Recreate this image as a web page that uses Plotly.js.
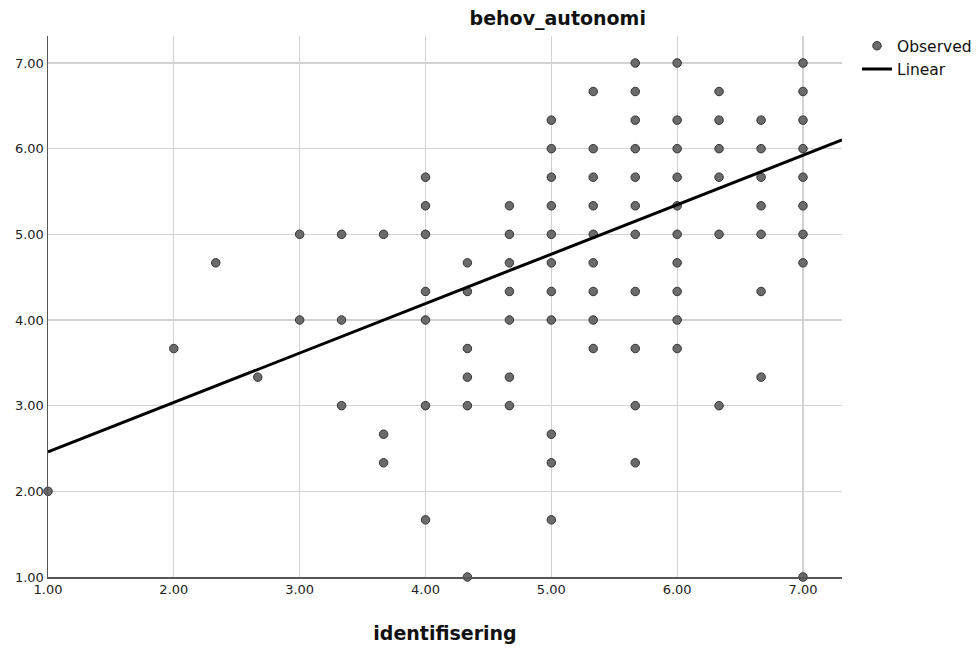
<!DOCTYPE html>
<html>
<head>
<meta charset="utf-8">
<script src="https://cdn.plot.ly/plotly-3.0.1.min.js"></script>
<style>html,body{margin:0;padding:0;background:#fff;}#chart{width:980px;height:648px;}</style>
</head>
<body>
<div id="chart"></div>
<script>
// identifisering (x) and behov_autonomi (y), grouped by x column
const colX = [1, 2, 2.333, 2.667, 3, 3.333, 3.667, 4, 4.333, 4.667, 5, 5.333, 5.667, 6, 6.333, 6.667, 7];
const colY = [
  [2],
  [3.667],
  [4.667],
  [3.333],
  [5, 4],
  [5, 4, 3],
  [5, 2.667, 2.333],
  [5.667, 5.333, 5, 4.333, 4, 3, 1.667],
  [4.667, 4.333, 3.667, 3.333, 3, 1],
  [5.333, 5, 4.667, 4.333, 4, 3.333, 3],
  [6.333, 6, 5.667, 5.333, 5, 4.667, 4.333, 4, 2.667, 2.333, 1.667],
  [6.667, 6, 5.667, 5.333, 5, 4.667, 4.333, 4, 3.667],
  [7, 6.667, 6.333, 6, 5.667, 5.333, 5, 4.333, 3.667, 3, 2.333],
  [7, 6.333, 6, 5.667, 5.333, 5, 4.667, 4.333, 4, 3.667],
  [6.667, 6.333, 6, 5.667, 5, 3],
  [6.333, 6, 5.667, 5.333, 5, 4.333, 3.333],
  [7, 6.667, 6.333, 6, 5.667, 5.333, 5, 4.667, 1]
];
// linear fit: y = intercept + slope * x
const fitIntercept = 1.883;
const fitSlope = 0.577;
const fitX = [1, 7.31];
const tickVals = [1, 2, 3, 4, 5, 6, 7];
const tickText = ["1.00", "2.00", "3.00", "4.00", "5.00", "6.00", "7.00"];

const obsX = [], obsY = [];
colX.forEach((x, i) => colY[i].forEach(y => { obsX.push(x); obsY.push(y); }));
const fitY = fitX.map(x => fitIntercept + fitSlope * x);

const FONT = "DejaVu Sans, sans-serif";
const data = [
  {type: 'scatter', mode: 'markers', name: 'Observed', x: obsX, y: obsY,
   marker: {size: 8.5, color: '#6b6b6b', line: {color: '#333333', width: 1}}, cliponaxis: false},
  {type: 'scatter', mode: 'lines', name: 'Linear', x: fitX, y: fitY,
   line: {color: '#000000', width: 3}}
];
const axisCommon = {
  tickvals: tickVals, ticktext: tickText, showgrid: true, gridcolor: '#d2d2d2', gridwidth: 1.2,
  zeroline: false, showline: true, linecolor: '#555555', linewidth: 1.5, ticks: '',
  tickfont: {family: FONT, size: 13, color: '#222222'}
};
const layout = {
  width: 980, height: 648, paper_bgcolor: '#ffffff', plot_bgcolor: '#ffffff',
  margin: {l: 48, r: 138, t: 36, b: 71, autoexpand: false},
  title: {text: '<b>behov_autonomi</b>', font: {family: FONT, size: 19, color: '#111111'},
          xref: 'paper', x: 0.642, xanchor: 'center', yref: 'container', y: 0.972, yanchor: 'middle'},
  xaxis: Object.assign({}, axisCommon, {range: [1, 7.31], automargin: false,
    title: {text: '<b>identifisering</b>', font: {family: FONT, size: 19, color: '#111111'}, standoff: 30}}),
  yaxis: Object.assign({}, axisCommon, {range: [1, 7.315], automargin: false}),
  showlegend: true,
  legend: {xref: 'container', yref: 'container', x: 0.8745, xanchor: 'left', y: 0.955, yanchor: 'top',
           bgcolor: 'rgba(0,0,0,0)',
           font: {family: FONT, size: 15.5, color: '#111111'}, tracegroupgap: 0, itemwidth: 30}
};
Plotly.newPlot('chart', data, layout, {displayModeBar: false, staticPlot: true});
</script>
</body>
</html>
